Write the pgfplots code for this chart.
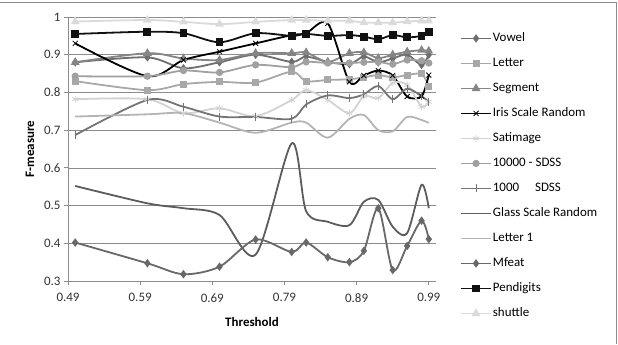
\documentclass[border=0pt]{standalone}
\usepackage{pgfplots}
\usepackage{pgfplotstable}
\pgfplotsset{compat=1.18}
\usepackage{fontspec}
\setmainfont{Carlito}
\definecolor{cVowel}{HTML}{6E6E6E}
\definecolor{cLetter}{HTML}{A8A8A8}
\definecolor{cSegment}{HTML}{858585}
\definecolor{cIris}{HTML}{000000}
\definecolor{cSat}{HTML}{D2D2D2}
\definecolor{cSdssA}{HTML}{A0A0A0}
\definecolor{cSdssB}{HTML}{747474}
\definecolor{cGlass}{HTML}{5C5C5C}
\definecolor{cLetterOne}{HTML}{B4B4B4}
\definecolor{cMfeat}{HTML}{686868}
\definecolor{cPen}{HTML}{111111}
\definecolor{cShuttle}{HTML}{DADADA}
\definecolor{cGrid}{HTML}{8C8C8C}

\pgfplotstableread{
x vowel letter segment iris satimage sdssA sdssB glass letterone mfeat pendigits shuttle
0.50 0.880 0.830 0.880 0.930 0.782 0.843 0.687 0.552 0.736 0.402 0.955 0.988
0.60 0.893 0.806 0.904 0.843 0.782 0.843 0.780 0.506 0.742 0.347 0.961 0.992
0.65 0.864 0.822 0.890 0.886 0.745 0.858 0.762 0.493 0.745 0.318 0.957 0.987
0.70 0.880 0.828 0.886 0.908 0.758 0.853 0.736 0.475 0.720 0.338 0.933 0.981
0.75 0.900 0.826 0.904 0.930 0.737 0.873 0.735 0.370 0.693 0.410 0.957 0.987
0.80 0.881 0.855 0.904 0.952 0.780 0.867 0.730 0.665 0.720 0.377 0.950 0.992
0.82 0.895 0.830 0.906 0.957 0.806 0.881 0.768 0.485 0.720 0.402 0.955 0.992
0.85 0.881 0.833 0.881 0.983 0.780 0.878 0.792 0.457 0.680 0.363 0.950 0.990
0.88 0.875 0.835 0.904 0.828 0.745 0.878 0.785 0.448 0.730 0.350 0.952 0.990
0.90 0.895 0.840 0.906 0.845 0.790 0.880 0.795 0.510 0.740 0.380 0.948 0.985
0.92 0.880 0.846 0.891 0.858 0.785 0.881 0.817 0.515 0.700 0.493 0.941 0.985
0.94 0.890 0.840 0.900 0.845 0.825 0.875 0.782 0.444 0.697 0.329 0.952 0.985
0.96 0.900 0.846 0.908 0.789 0.820 0.886 0.810 0.427 0.735 0.393 0.946 0.988
0.98 0.873 0.849 0.912 0.790 0.762 0.884 0.790 0.555 0.727 0.460 0.950 0.990
0.99 0.900 0.817 0.910 0.846 0.775 0.878 0.775 0.493 0.719 0.411 0.961 0.990
}\data

\begin{document}
\begin{tikzpicture}[x=1bp,y=1bp]
\begin{axis}[
  at={(68bp,63bp)}, anchor=south west,
  scale only axis, width=368bp, height=264bp,
  xmin=0.49, xmax=1.0, ymin=0.3, ymax=1,
  xtick={0.49,0.59,0.69,0.79,0.89,0.99},
  xticklabels={0.49,0.59,0.69,0.79,0.89,0.99},
  ytick={0.3,0.4,0.5,0.6,0.7,0.8,0.9,1},
  yticklabels={0.3,0.4,0.5,0.6,0.7,0.8,0.9,1},
  axis x line*=bottom, axis y line*=left,
  axis line style={cGrid, line width=0.8bp},
  ymajorgrids, grid style={cGrid, line width=0.7bp},
  tick align=outside, major tick length=4bp,
  tick style={cGrid, line width=0.8bp},
  ticklabel style={font=\fontsize{13}{15}\selectfont, color=black!80},
  xticklabel style={yshift=-5bp},
  /pgf/number format/assume math mode=true,
  xlabel={Threshold}, ylabel={F-measure},
  label style={font=\bfseries\fontsize{13}{15}\selectfont},
  xlabel style={yshift=-8bp},
  ylabel style={yshift=3bp},
  every axis plot/.append style={smooth, line width=1.8bp},
  legend image code/.code={\draw[mark repeat=2,mark phase=2,#1] plot coordinates {(0bp,0bp)(15bp,0bp)(30bp,0bp)};},
  legend cell align=left,
  legend style={at={(1.065,0.946)}, anchor=north west, draw=none, fill=none,
    font=\fontsize{13}{15}\selectfont, inner sep=0pt, row sep=11bp,
    nodes={inner sep=1bp, text height=9bp, text depth=3bp}},
]
\addplot[cVowel, mark=diamond*, mark size=2.8bp] table[x=x,y=vowel]{\data};
\addlegendentry{Vowel}
\addplot[cLetter, mark=square*, mark size=2.6bp] table[x=x,y=letter]{\data};
\addlegendentry{Letter}
\addplot[cSegment, mark=triangle*, mark size=3.3bp] table[x=x,y=segment]{\data};
\addlegendentry{Segment}
\addplot[cIris, mark=x, mark size=3.5bp, mark options={line width=0.8bp}] table[x=x,y=iris]{\data};
\addlegendentry{Iris Scale Random}
\addplot[cSat, mark=asterisk, mark size=3.5bp, mark options={line width=0.8bp}] table[x=x,y=satimage]{\data};
\addlegendentry{Satimage}
\addplot[cSdssA, mark=*, mark size=2.7bp] table[x=x,y=sdssA]{\data};
\addlegendentry{10000 - SDSS}
\addplot[cSdssB, mark=|, mark size=4bp, mark options={line width=0.8bp}] table[x=x,y=sdssB]{\data};
\addlegendentry{1000 \quad SDSS}
\addplot[cGlass, no markers] table[x=x,y=glass]{\data};
\addlegendentry{Glass Scale Random}
\addplot[cLetterOne, no markers] table[x=x,y=letterone]{\data};
\addlegendentry{Letter 1}
\addplot[cMfeat, mark=diamond*, mark size=2.8bp] table[x=x,y=mfeat]{\data};
\addlegendentry{Mfeat}
\addplot[cPen, mark=square*, mark size=3bp] table[x=x,y=pendigits]{\data};
\addlegendentry{Pendigits}
\addplot[cShuttle, mark=triangle*, mark size=3.3bp] table[x=x,y=shuttle]{\data};
\addlegendentry{shuttle}
\end{axis}
\draw[cGrid, line width=0.8bp] (0,341.5) -- (616.5,341.5) -- (616.5,0);
\pgfresetboundingbox
\useasboundingbox (0,0) rectangle (618,344);
\end{tikzpicture}
\end{document}
